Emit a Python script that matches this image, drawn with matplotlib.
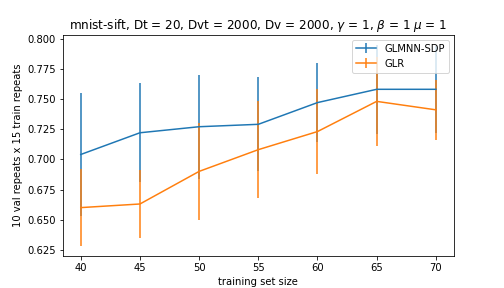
import matplotlib
matplotlib.use('Agg')
import matplotlib.pyplot as plt
import numpy as np

# training set sizes
sizes = [40, 45, 50, 55, 60, 65, 70]

# GLMNN-SDP mean and std
glmnn_mean = [0.704, 0.722, 0.727, 0.729, 0.747, 0.758, 0.758]
glmnn_err = [0.051, 0.041, 0.043, 0.039, 0.033, 0.037, 0.036]

# GLR mean and std
glr_mean = [0.660, 0.663, 0.690, 0.708, 0.723, 0.748, 0.741]
glr_err = [0.032, 0.028, 0.040, 0.040, 0.035, 0.037, 0.025]

fig, ax = plt.subplots(figsize=(7, 4), dpi=72)

ax.errorbar(sizes, glmnn_mean, yerr=glmnn_err, label='GLMNN-SDP')
ax.errorbar(sizes, glr_mean, yerr=glr_err, label='GLR')

ax.set_title(r'mnist-sift, Dt = 20, Dvt = 2000, Dv = 2000, $\gamma$ = 1, $\beta$ = 1 $\mu$ = 1')
ax.set_xlabel('training set size')
ax.set_ylabel('10 val repeats x 15 train repeats')
ax.legend(loc='upper right')

fig.savefig('out.png', dpi=72)
